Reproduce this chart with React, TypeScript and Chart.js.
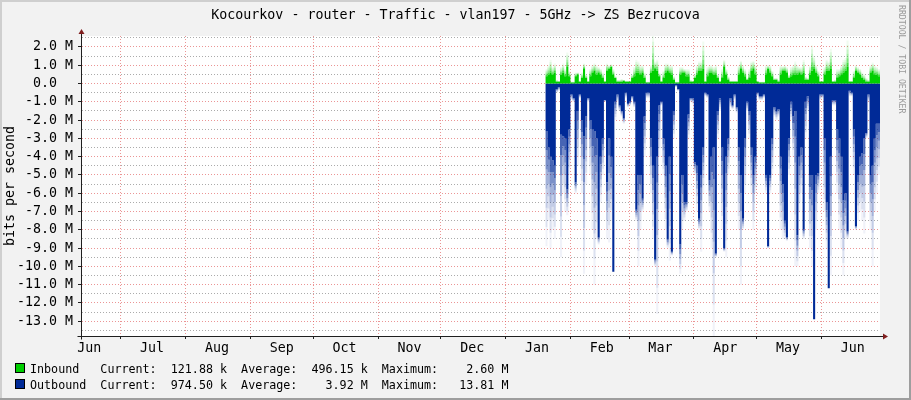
import React, { useEffect, useRef } from 'react';
import { Chart, registerables } from 'chart.js';

Chart.register(...registerables);

// ---------- texts ----------
const TITLE = 'Kocourkov - router - Traffic - vlan197 - 5GHz -> ZS Bezrucova';
const Y_TITLE = 'bits per second';
const WATERMARK = 'RRDTOOL / TOBI OETIKER';

// ---------- time axis (day numbers from range start) ----------
const DAY_MS = 86400000;
const RANGE_START = Date.UTC(2016, 5, 12);
const RANGE_END = Date.UTC(2017, 5, 29);
const FIRST_SAMPLE = Date.UTC(2017, 0, 20); // first daily sample, one value per day

const monthLabels = ['Jun', 'Jul', 'Aug', 'Sep', 'Oct', 'Nov', 'Dec', 'Jan', 'Feb', 'Mar', 'Apr', 'May', 'Jun'];
const monthStarts = [
  Date.UTC(2016, 5, 1), Date.UTC(2016, 6, 1), Date.UTC(2016, 7, 1), Date.UTC(2016, 8, 1),
  Date.UTC(2016, 9, 1), Date.UTC(2016, 10, 1), Date.UTC(2016, 11, 1), Date.UTC(2017, 0, 1),
  Date.UTC(2017, 1, 1), Date.UTC(2017, 2, 1), Date.UTC(2017, 3, 1), Date.UTC(2017, 4, 1),
  Date.UTC(2017, 5, 1),
];

// ---------- series values (Mbit/s), one per day from FIRST_SAMPLE ----------
const inbound = [
  0.4, 0.5, 0.6, 0.5, 0.6, 0.1, 0.1, 0.5, 0.6, 0.4,
  0.9, 0.4, 0.05, 0.05, 0.4, 0.5, 0.1, 0.3, 0.8, 0.3,
  0.1, 0.4, 0.6, 0.7, 0.5, 0.6, 0.5, 0.3, 0.1, 0.7,
  0.8, 0.9, 0.5, 0.3, 0.1, 0.1, 0.1, 0.15, 0.1, 0.1,
  0.1, 0.3, 0.4, 0.6, 0.6, 0.5, 0.6, 0.3, 0.05, 0.05,
  0.6, 0.7, 0.8, 0.7, 0.4, 0.1, 0.3, 0.6, 0.7, 0.6,
  0.5, 0.2, 0.05, 0.05, 0.5, 0.6, 0.6, 0.4, 0.4, 0.1,
  0.1, 0.3, 0.5, 0.7, 0.7, 0.8, 0.1, 0.4, 0.6, 0.6,
  0.5, 0.5, 0.3, 0.1, 0.3, 0.9, 0.5, 0.2, 0.1, 0.1,
  0.1, 0.1, 0.5, 0.8, 0.6, 0.4, 0.2, 0.3, 0.7, 0.8,
  0.5, 0.1, 0.05, 0.05, 0.05, 0.5, 0.8, 0.6, 0.4, 0.2,
  0.2, 0.1, 0.5, 0.7, 0.7, 0.6, 0.3, 0.4, 0.5, 0.5,
  0.5, 0.6, 0.5, 0.6, 0.2, 0.2, 0.5, 0.7, 0.8, 0.6,
  0.4, 0.1, 0.1, 0.5, 0.7, 0.7, 0.8, 0.1, 0.1, 0.3,
  0.4, 0.5, 0.6, 0.7, 0.9, 0.1, 0.1, 0.3, 0.7, 0.6,
  0.5, 0.3, 0.2, 0.1, 0.1, 0.6, 0.7, 0.5, 0.5, 0.4,
];
const inboundPeak = [
  0.8, 1.0, 1.3, 0.9, 1.1, 0.2, 0.15, 0.9, 1.1, 0.8,
  1.7, 0.7, 0.1, 0.1, 0.6, 0.6, 0.15, 0.6, 1.1, 0.5,
  0.15, 0.8, 1.0, 1.1, 1.0, 0.9, 0.8, 0.6, 0.15, 1.1,
  1.0, 1.05, 0.8, 0.4, 0.2, 0.2, 0.25, 0.2, 0.15, 0.15,
  0.15, 0.5, 0.9, 1.3, 1.2, 1.0, 1.0, 0.6, 0.1, 0.1,
  1.0, 2.6, 1.2, 1.3, 0.6, 0.15, 0.7, 1.1, 1.1, 1.0,
  1.0, 0.4, 0.1, 0.1, 0.9, 0.9, 0.8, 0.8, 0.8, 0.2,
  0.15, 0.5, 1.0, 1.2, 1.2, 2.3, 0.15, 0.9, 1.0, 1.0,
  0.9, 1.0, 0.5, 0.15, 0.8, 1.3, 0.8, 0.4, 0.15, 0.15,
  0.15, 0.15, 1.0, 1.25, 1.0, 0.8, 0.3, 0.8, 1.2, 1.25,
  1.0, 0.15, 0.1, 0.1, 0.1, 1.0, 1.0, 1.0, 0.7, 0.3,
  0.3, 0.2, 1.0, 0.95, 1.0, 0.9, 0.5, 0.9, 1.0, 1.2,
  1.0, 0.9, 0.9, 1.3, 0.4, 0.3, 1.0, 2.1, 1.5, 1.0,
  0.7, 0.15, 0.15, 0.9, 1.3, 1.2, 1.9, 0.15, 0.2, 0.8,
  0.8, 1.0, 1.3, 1.4, 2.35, 0.15, 0.15, 0.7, 1.0, 0.9,
  0.8, 0.6, 0.5, 0.3, 0.2, 1.0, 1.15, 1.0, 0.9, 0.8,
];
const outbound = [
  2.6, 3.5, 4.0, 4.2, 4.5, 0.3, 0.2, 2.8, 2.9, 3.0,
  5.8, 2.5, 0.6, 0.8, 5.4, 1.5, 0.6, 2.0, 2.9, 1.8,
  0.8, 2.0, 2.5, 2.6, 3.0, 8.4, 4.0, 3.0, 0.9, 5.4,
  3.0, 4.0, 10.3, 1.0, 0.6, 1.2, 1.5, 1.9, 0.5, 1.1,
  1.0, 0.7, 1.0, 6.9, 5.0, 5.0, 6.3, 1.8, 0.5, 0.5,
  3.0, 4.5, 9.6, 4.0, 1.2, 1.0, 3.0, 4.5, 8.5, 4.0,
  9.2, 1.5, 0.1, 0.3, 8.8, 5.0, 6.5, 6.5, 1.7, 0.8,
  0.8, 4.3, 4.5, 7.4, 5.0, 3.5, 0.5, 0.6, 5.3, 4.0,
  3.5, 9.3, 1.5, 0.8, 3.5, 9.0, 4.0, 3.0, 0.8, 1.2,
  0.6, 1.3, 3.5, 5.0, 7.4, 3.0, 1.0, 1.5, 3.5, 5.0,
  4.0, 0.5, 0.7, 0.7, 0.6, 5.0, 8.9, 5.0, 3.0, 1.3,
  1.5, 1.4, 4.0, 5.5, 7.5, 8.4, 3.0, 1.0, 1.8, 1.5,
  8.3, 4.0, 3.5, 8.0, 1.0, 0.7, 5.0, 5.0, 12.9, 5.0,
  4.9, 0.6, 0.6, 3.0, 6.5, 11.2, 4.0, 0.9, 0.9, 2.5,
  3.0, 4.0, 6.4, 6.0, 8.1, 0.4, 0.5, 2.5, 7.8, 5.0,
  4.0, 3.8, 3.0, 2.7, 0.6, 5.0, 4.5, 3.0, 2.2, 2.2,
];
const outboundPeak = [
  8.9, 7.5, 9.0, 8.0, 8.5, 0.5, 0.4, 9.5, 6.0, 7.0,
  7.2, 5.0, 0.9, 1.0, 6.0, 4.5, 0.8, 6.0, 10.4, 5.5,
  1.0, 5.0, 8.0, 11.0, 8.5, 8.8, 6.5, 5.0, 1.0, 8.5,
  8.7, 7.5, 10.3, 2.0, 1.0, 1.5, 1.8, 2.2, 0.8, 1.3,
  1.2, 0.9, 1.3, 7.5, 10.0, 8.0, 7.0, 4.0, 0.8, 0.8,
  6.0, 8.5, 10.0, 12.6, 4.0, 1.2, 5.0, 8.0, 9.0, 9.7,
  9.4, 3.0, 0.2, 0.4, 10.4, 8.0, 7.5, 7.0, 3.0, 1.0,
  1.1, 5.0, 7.0, 8.0, 9.2, 6.0, 0.7, 0.8, 7.0, 9.0,
  13.81, 9.5, 3.0, 1.5, 8.0, 9.2, 9.5, 5.0, 1.3, 1.4,
  0.9, 1.6, 8.0, 11.0, 8.0, 6.0, 1.5, 3.0, 6.0, 8.0,
  6.0, 0.7, 0.9, 0.9, 0.8, 6.0, 9.0, 6.0, 5.0, 1.8,
  2.0, 1.8, 8.0, 8.5, 8.5, 8.6, 5.0, 2.0, 4.0, 10.0,
  10.0, 7.0, 6.0, 8.5, 3.0, 1.5, 9.0, 10.0, 12.9, 8.0,
  6.0, 0.9, 0.8, 7.0, 9.0, 11.2, 10.5, 1.2, 1.2, 6.0,
  8.0, 9.0, 10.5, 8.5, 8.5, 0.7, 0.7, 5.0, 8.0, 7.5,
  7.0, 7.5, 8.2, 3.0, 1.0, 8.0, 10.0, 7.0, 6.0, 5.0,
];

// ---------- legend ----------
const seriesNames = ['Inbound', 'Outbound'];
const currentVals = ['121.88 k', '974.50 k'];
const averageVals = ['496.15 k', '3.92 M'];
const maximumVals = ['2.60 M', '13.81 M'];

// ---------- y axis ----------
const Y_MIN = -13.81;
const Y_MAX = 2.6;
const yMajorTicks = [2, 1, 0, -1, -2, -3, -4, -5, -6, -7, -8, -9, -10, -11, -12, -13];

// ---------- styles ----------
const FONT = "'DejaVu Sans Mono', monospace";
const BACK = '#F2F2F2';
const SHADE_A = '#CFCFCF';
const SHADE_B = '#9E9E9E';
const GRID = 'rgba(143,143,143,0.75)';
const MGRID = 'rgba(222,79,79,0.6)';
const AXIS = '#1F1F1F';
const ARROW = '#801F1F';
const IN_RGB = [0, 207, 0];
const OUT_RGB = [0, 42, 151];
const FADE_ALPHA = [0.72, 0.52, 0.36, 0.24, 0.14, 0.06];

const toDay = (ms: number) => Math.round((ms - RANGE_START) / DAY_MS);
const X_MIN = 0;
const X_MAX = toDay(RANGE_END);
const FIRST_DAY = toDay(FIRST_SAMPLE);
const boundaryDays = monthStarts.map(toDay).filter((d) => d > X_MIN && d < X_MAX);
const labelDays = monthStarts.map((m) => toDay(m) + 15);
const labelByDay = new Map<number, string>(labelDays.map((d, i) => [d, monthLabels[i]]));
const boundarySet = new Set<number>(boundaryDays);
const xTickValues = [...boundaryDays, ...labelDays].sort((a, b) => a - b);

const yTickValues: number[] = [];
yMajorTicks.forEach((v) => {
  yTickValues.push(v);
  if (v + 0.5 <= Y_MAX) yTickValues.push(v + 0.5);
});
yTickValues.push(-13.5);
yTickValues.sort((a, b) => a - b);

function points(vals: number[], sign: number) {
  const pts = vals.map((v, i) => ({ x: FIRST_DAY + i, y: sign * v }));
  pts.push({ x: FIRST_DAY + vals.length, y: sign * vals[vals.length - 1] });
  return pts;
}
const rgba = (c: number[], a: number) => `rgba(${c[0]},${c[1]},${c[2]},${a})`;

function areaWithFade(base: number[], peak: number[], sign: number, color: number[]) {
  const sets: any[] = [];
  sets.push({
    data: points(base, sign),
    backgroundColor: rgba(color, 1),
    borderColor: 'transparent',
    borderWidth: 0,
    fill: 'origin',
    stepped: 'before',
    pointRadius: 0,
  });
  const n = FADE_ALPHA.length;
  for (let k = 1; k <= n; k++) {
    const level = base.map((b, i) => b + ((peak[i] - b) * k) / n);
    sets.push({
      data: points(level, sign),
      backgroundColor: rgba(color, FADE_ALPHA[k - 1]),
      borderColor: 'transparent',
      borderWidth: 0,
      fill: '-1',
      stepped: 'before',
      pointRadius: 0,
    });
  }
  return sets;
}

const rrdPlugin = {
  id: 'rrdFrame',
  beforeDraw(chart: any) {
    const { ctx, width, height, chartArea: a } = chart;
    ctx.save();
    ctx.fillStyle = BACK;
    ctx.fillRect(0, 0, width, height);
    ctx.fillStyle = SHADE_A;
    ctx.fillRect(0, 0, width, 2);
    ctx.fillRect(0, 0, 2, height);
    ctx.fillStyle = SHADE_B;
    ctx.fillRect(0, height - 2, width, 2);
    ctx.fillRect(width - 2, 0, 2, height);
    ctx.fillStyle = '#FFFFFF';
    ctx.fillRect(a.left, a.top, a.right - a.left, a.bottom - a.top);
    ctx.restore();
  },
  afterDraw(chart: any) {
    const { ctx, chartArea: a } = chart;
    const yb = Math.round(a.bottom) + 0.5;
    const xl = Math.round(a.left) + 0.5;
    ctx.save();
    ctx.strokeStyle = AXIS;
    ctx.lineWidth = 1;
    ctx.beginPath();
    ctx.moveTo(xl - 4, yb);
    ctx.lineTo(a.right + 3, yb);
    ctx.moveTo(xl, yb + 3);
    ctx.lineTo(xl, a.top - 2);
    ctx.stroke();
    ctx.fillStyle = ARROW;
    ctx.beginPath();
    ctx.moveTo(a.right + 3, yb - 3);
    ctx.lineTo(a.right + 8, yb);
    ctx.lineTo(a.right + 3, yb + 3);
    ctx.closePath();
    ctx.fill();
    ctx.beginPath();
    ctx.moveTo(xl - 3, a.top - 2);
    ctx.lineTo(xl, a.top - 7);
    ctx.lineTo(xl + 3, a.top - 2);
    ctx.closePath();
    ctx.fill();
    ctx.restore();
  },
};

const legendRow = (i: number) =>
  seriesNames[i].padEnd(10) +
  'Current:  ' + currentVals[i].padStart(8) + '  ' +
  'Average:  ' + averageVals[i].padStart(8) + '  ' +
  'Maximum:  ' + maximumVals[i].padStart(8);

const legendColors = [rgba(IN_RGB, 1), rgba(OUT_RGB, 1)];

export default function App() {
  const ref = useRef<HTMLCanvasElement>(null);

  useEffect(() => {
    const canvas = ref.current;
    if (!canvas) return;
    const datasets = [
      ...areaWithFade(inbound, inboundPeak, 1, IN_RGB),
      ...areaWithFade(outbound, outboundPeak, -1, OUT_RGB),
    ];
    const chart = new Chart(canvas, {
      type: 'line',
      data: { datasets },
      plugins: [rrdPlugin],
      options: {
        animation: false,
        responsive: false,
        devicePixelRatio: 1,
        events: [],
        layout: { padding: { left: 0, right: 31, top: 36, bottom: 42 } },
        plugins: {
          legend: { display: false },
          tooltip: { enabled: false },
          title: { display: false },
        },
        scales: {
          x: {
            type: 'linear',
            min: X_MIN,
            max: X_MAX,
            afterBuildTicks: (scale: any) => {
              scale.ticks = xTickValues.map((v) => ({ value: v }));
            },
            afterFit: (scale: any) => {
              scale.height = 22;
            },
            ticks: {
              autoSkip: false,
              maxRotation: 0,
              minRotation: 0,
              padding: 2,
              color: '#000',
              font: { family: FONT, size: 13.3 },
              callback: (v: any) => labelByDay.get(Number(v)) ?? '',
            },
            grid: {
              lineWidth: 1,
              color: (ctx: any) => (ctx.tick && boundarySet.has(ctx.tick.value) ? MGRID : 'transparent'),
              tickColor: (ctx: any) => (ctx.tick && boundarySet.has(ctx.tick.value) ? AXIS : 'transparent'),
              tickLength: 3,
            },
            border: { display: true, color: AXIS, width: 1, dash: [1, 2] },
          },
          y: {
            type: 'linear',
            min: Y_MIN,
            max: Y_MAX,
            afterBuildTicks: (scale: any) => {
              scale.ticks = yTickValues.map((v) => ({ value: v }));
            },
            afterFit: (scale: any) => {
              scale.width = 81;
            },
            ticks: {
              autoSkip: false,
              padding: 5,
              color: '#000',
              font: { family: FONT, size: 13.3 },
              callback: (v: any) => {
                const n = Number(v);
                if (!Number.isInteger(n)) return '';
                if (n === 0) return '0.0  ';
                return `${n.toFixed(1)} M`;
              },
            },
            grid: {
              lineWidth: 1,
              color: (ctx: any) =>
                ctx.tick && Number.isInteger(ctx.tick.value) ? MGRID : GRID,
              tickColor: (ctx: any) =>
                ctx.tick && Number.isInteger(ctx.tick.value) ? AXIS : 'transparent',
              tickLength: 3,
            },
            border: { display: true, color: AXIS, width: 1, dash: [1, 2] },
            title: {
              display: true,
              text: Y_TITLE,
              color: '#000',
              font: { family: FONT, size: 13.3 },
              padding: { top: 3, bottom: 0 },
            },
          },
        },
      } as any,
    });
    return () => chart.destroy();
  }, []);

  const mono = (size: number, lh: number) => ({
    fontFamily: FONT,
    fontSize: size,
    lineHeight: `${lh}px`,
    whiteSpace: 'pre' as const,
    color: '#000',
  });

  return (
    <div style={{ position: 'fixed', left: 0, top: 0, width: 911, height: 400, overflow: 'hidden', background: BACK }}>
      <canvas ref={ref} width={911} height={400} style={{ position: 'absolute', left: 0, top: 0, display: 'block' }} />
      <div style={{ position: 'absolute', left: 0, top: 7, width: 911, textAlign: 'center', ...mono(13.3, 16) }}>{TITLE}</div>
      <div
        style={{
          position: 'absolute',
          left: 897,
          top: 5,
          writingMode: 'vertical-rl',
          ...mono(8.2, 10),
          color: '#9A9A9A',
        }}
      >
        {WATERMARK}
      </div>
      {seriesNames.map((_, i) => (
        <React.Fragment key={i}>
          <div
            style={{
              position: 'absolute',
              left: 15,
              top: 363 + i * 16,
              width: 10,
              height: 10,
              boxSizing: 'border-box',
              border: '1px solid #000',
              background: legendColors[i],
            }}
          />
          <div style={{ position: 'absolute', left: 30, top: 361 + i * 16, ...mono(11.7, 16) }}>{legendRow(i)}</div>
        </React.Fragment>
      ))}
    </div>
  );
}
